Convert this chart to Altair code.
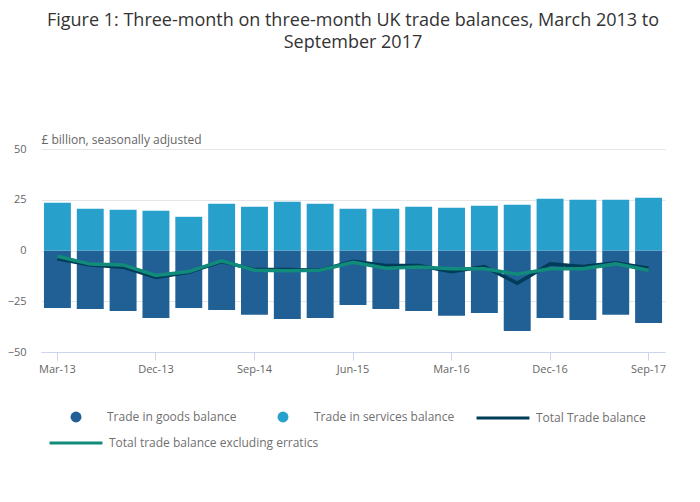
import altair as alt
import pandas as pd

quarters = ["Mar-13", "Jun-13", "Sep-13", "Dec-13", "Mar-14", "Jun-14", "Sep-14",
            "Dec-14", "Mar-15", "Jun-15", "Sep-15", "Dec-15", "Mar-16", "Jun-16",
            "Sep-16", "Dec-16", "Mar-17", "Jun-17", "Sep-17"]
goods = [-28.3, -28.8, -29.8, -33.2, -28.3, -29.3, -31.7, -33.7, -33.2, -26.8,
         -28.8, -29.8, -32.2, -30.8, -39.6, -33.2, -34.2, -31.7, -35.7]
services = [23.5, 20.6, 20.1, 19.6, 16.6, 23.0, 21.5, 24.0, 23.0, 20.6,
            20.6, 21.5, 21.0, 22.0, 22.5, 25.5, 25.0, 25.0, 26.0]
total = [-4.1, -7.1, -8.2, -13.3, -10.7, -5.4, -9.4, -9.4, -9.7, -5.3,
         -7.4, -7.4, -10.4, -7.9, -16.1, -6.6, -7.9, -6.1, -8.7]
excl = [-2.8, -6.7, -7.1, -12.3, -10.4, -5.1, -9.7, -10.0, -9.7, -5.8,
        -8.7, -8.1, -9.0, -9.0, -11.7, -9.0, -9.0, -6.6, -9.7]
tick_labels = ["Mar-13", "Dec-13", "Sep-14", "Jun-15", "Mar-16", "Dec-16", "Sep-17"]
y_ticks = [-50, -25, 0, 25, 50]

series_names = ["Trade in goods balance", "Trade in services balance",
                "Total Trade balance", "Total trade balance excluding erratics"]
colors = ["#206095", "#27a0cc", "#003c57", "#118c7b"]

df = pd.DataFrame({"quarter": quarters, "goods": goods, "services": services,
                   "total": total, "excl": excl})

FONT = "Open Sans"
GREY = "#666666"

x_enc = alt.X("quarter:N", sort=quarters,
              scale=alt.Scale(paddingInner=0.18, paddingOuter=0.09),
              axis=alt.Axis(values=tick_labels, bandPosition=0.5, labelAngle=0,
                            tickColor="#ccd6eb", domainColor="#ccd6eb", tickSize=8,
                            labelColor=GREY, labelFont=FONT, labelFontSize=11,
                            labelPadding=3, grid=False, title=None))

def y_enc(field):
    return alt.Y(f"{field}:Q",
                 scale=alt.Scale(domain=[-50, 50], nice=False, zero=False),
                 axis=alt.Axis(values=y_ticks, grid=True, gridColor="#e6e6e6",
                               domain=False, ticks=False, tickSize=0, labelPadding=15,
                               labelColor=GREY, labelFont=FONT, labelFontSize=11,
                               title="£ billion, seasonally adjusted", titleAngle=0,
                               titleX=0, titleY=-3, titleAlign="left",
                               titleBaseline="bottom", titleFont=FONT,
                               titleFontSize=12, titleFontWeight="normal",
                               titleColor=GREY))

def legend(x, y, kind):
    common = dict(orient="none", legendX=x, legendY=y, title=None, padding=0,
                  labelFont=FONT, labelFontSize=12, labelColor="#707070",
                  labelLimit=400)
    if kind == "circle":
        return alt.Legend(symbolType="circle", symbolSize=120, labelOffset=25,
                          symbolStrokeWidth=0, **common)
    return alt.Legend(symbolType="stroke", symbolSize=2800, symbolStrokeWidth=3,
                      labelOffset=5, **common)

base = alt.Chart(df)

goods_bar = base.mark_bar().transform_calculate(s=f"'{series_names[0]}'").encode(
    x=x_enc, y=y_enc("goods"),
    fill=alt.Fill("s:N", scale=alt.Scale(domain=[series_names[0]], range=[colors[0]]),
                  legend=legend(29, 262, "circle")))

serv_bar = base.mark_bar().transform_calculate(s=f"'{series_names[1]}'").encode(
    x=x_enc, y=y_enc("services"),
    fill=alt.Fill("s:N", scale=alt.Scale(domain=[series_names[1]], range=[colors[1]]),
                  legend=legend(236, 262, "circle")))

total_line = base.mark_line(strokeWidth=3.5).transform_calculate(s=f"'{series_names[2]}'").encode(
    x=x_enc, y=y_enc("total"),
    stroke=alt.Stroke("s:N", scale=alt.Scale(domain=[series_names[2]], range=[colors[2]]),
                      legend=legend(434, 241, "stroke")))

excl_line = base.mark_line(strokeWidth=3.5).transform_calculate(s=f"'{series_names[3]}'").encode(
    x=x_enc, y=y_enc("excl"),
    stroke=alt.Stroke("s:N", scale=alt.Scale(domain=[series_names[3]], range=[colors[3]]),
                      legend=legend(7, 266, "stroke")))

chart = alt.layer(goods_bar, serv_bar, total_line, excl_line).resolve_scale(
    fill="independent", stroke="independent"
).properties(
    width=624, height=203,
    autosize=alt.AutoSizeParams(type="none"),
    padding={"left": 33, "top": 141, "right": 27, "bottom": 140},
    title=alt.Title(["Figure 1: Three-month on three-month UK trade balances, March 2013 to",
                     "September 2017"],
                    font=FONT, fontSize=18, fontWeight="normal", color="#333333",
                    anchor="middle", lineHeight=22, offset=81)
).configure_view(stroke=None)

chart.save("out.html", embed_options={"renderer": "svg", "actions": False})
